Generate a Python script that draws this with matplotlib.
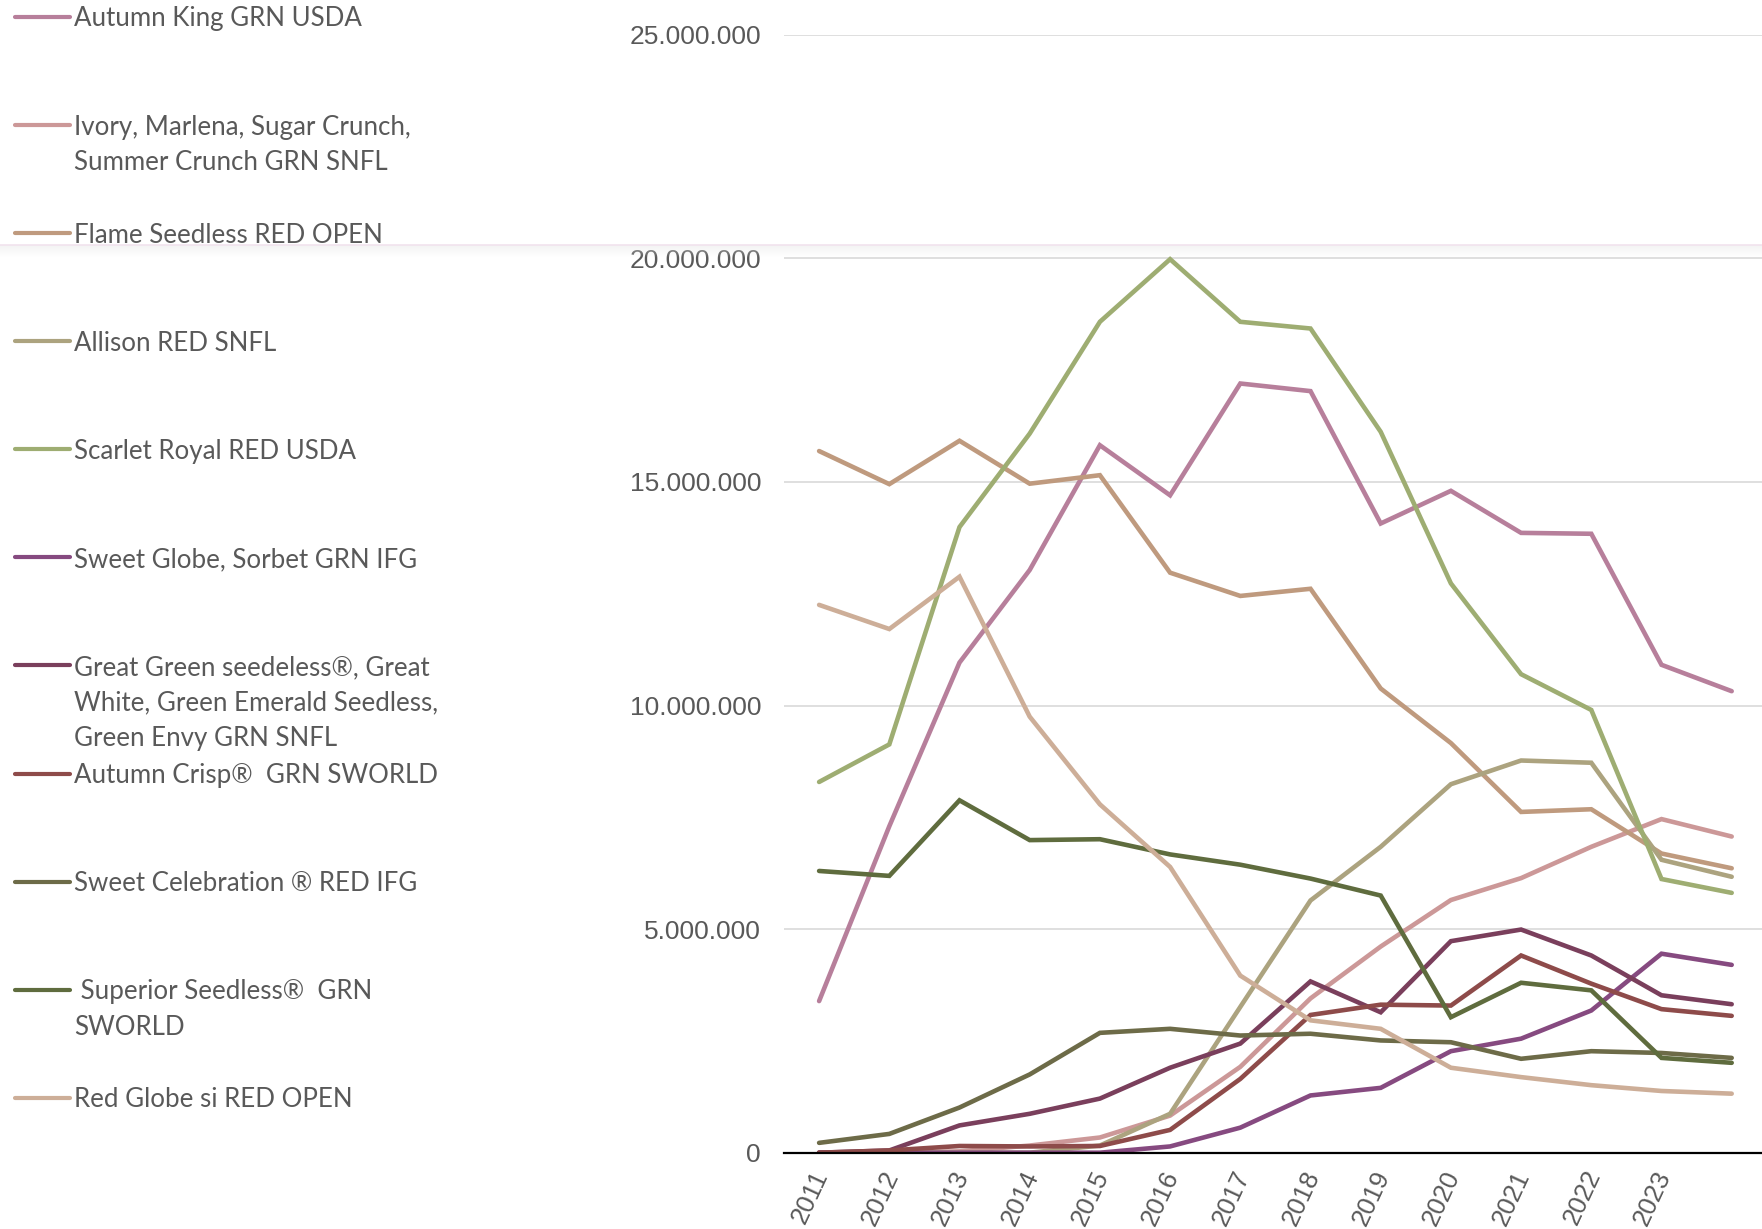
import matplotlib
matplotlib.use("Agg")
import matplotlib.pyplot as plt
import matplotlib.transforms as mtransforms
from matplotlib.lines import Line2D
from matplotlib.patches import Rectangle
from matplotlib.ticker import FuncFormatter

# x categories: 14 points, the last one has no label on the axis
years = ["2011", "2012", "2013", "2014", "2015", "2016", "2017",
         "2018", "2019", "2020", "2021", "2022", "2023", ""]

# values in millions
autumn_king = [3.39, 7.30, 10.96, 13.03, 15.82, 14.70, 17.20, 17.03, 14.07, 14.80, 13.86, 13.84, 10.91, 10.32]
ivory = [0, 0, 0.03, 0.16, 0.34, 0.83, 1.92, 3.45, 4.61, 5.65, 6.14, 6.84, 7.46, 7.07]
flame = [15.69, 14.95, 15.92, 14.96, 15.15, 12.97, 12.45, 12.61, 10.38, 9.16, 7.62, 7.68, 6.69, 6.36]
allison = [0, 0, 0, 0, 0.16, 0.87, 3.26, 5.64, 6.84, 8.24, 8.77, 8.72, 6.55, 6.17]
scarlet_royal = [8.29, 9.13, 13.99, 16.08, 18.58, 19.98, 18.58, 18.43, 16.12, 12.73, 10.70, 9.90, 6.12, 5.81]
sweet_globe = [0, 0, 0, 0, 0, 0.14, 0.56, 1.28, 1.45, 2.27, 2.55, 3.18, 4.45, 4.20]
great_green = [0, 0.05, 0.61, 0.87, 1.21, 1.90, 2.44, 3.83, 3.14, 4.73, 4.99, 4.41, 3.52, 3.32]
autumn_crisp = [0, 0.05, 0.15, 0.14, 0.15, 0.51, 1.65, 3.08, 3.31, 3.29, 4.41, 3.78, 3.21, 3.06]
sweet_celebration = [0.22, 0.42, 1.01, 1.75, 2.68, 2.77, 2.62, 2.66, 2.51, 2.47, 2.10, 2.27, 2.23, 2.12]
superior = [6.30, 6.19, 7.88, 6.99, 7.01, 6.67, 6.44, 6.13, 5.75, 3.03, 3.80, 3.63, 2.12, 2.01]
red_globe = [12.25, 11.71, 12.88, 9.75, 7.79, 6.39, 3.96, 2.96, 2.77, 1.90, 1.69, 1.51, 1.38, 1.32]

labels = [
    "Autumn King GRN USDA",
    "Ivory, Marlena, Sugar Crunch,\nSummer Crunch GRN SNFL",
    "Flame Seedless RED OPEN",
    "Allison RED SNFL",
    "Scarlet Royal RED USDA",
    "Sweet Globe, Sorbet GRN IFG",
    "Great Green seedeless\u00ae, Great\nWhite, Green Emerald Seedless,\nGreen Envy GRN SNFL",
    "Autumn Crisp\u00ae  GRN SWORLD",
    "Sweet Celebration \u00ae RED IFG",
    " Superior Seedless\u00ae  GRN\nSWORLD",
    "Red Globe si RED OPEN",
]
series = [autumn_king, ivory, flame, allison, scarlet_royal, sweet_globe,
          great_green, autumn_crisp, sweet_celebration, superior, red_globe]
colors = ["#b77f9b", "#cc9898", "#bf9a7e", "#aca37f", "#9ead72", "#864a80",
          "#7a3f5c", "#8e4b4a", "#6d6b48", "#5f6c3e", "#cdae98"]

W, H = 1762, 1229
TXT = "#595959"

fig = plt.figure(figsize=(W / 100, H / 100), dpi=100)
# axes placed in pixel terms: left edge 784, zero line at y=1152.7, top gridline at 34.7
ax = fig.add_axes([784 / W, (H - 1152.7) / H, 982.8 / W, (1152.7 - 34.7) / H])

xs = list(range(len(years)))
for vals, c in zip(series, colors):
    ax.plot(xs, [v * 1e6 for v in vals], color=c, lw=3.3, solid_capstyle="round",
            solid_joinstyle="miter", zorder=3)

ax.set_xlim(-0.5, len(years) - 0.5)
ax.set_ylim(0, 25e6)
ax.set_yticks([0, 5e6, 10e6, 15e6, 20e6, 25e6])
ax.yaxis.set_major_formatter(FuncFormatter(lambda v, p: f"{v:,.0f}".replace(",", ".")))
ax.grid(axis="y", color="#d9d9d9", lw=1.2, zorder=0)
ax.axhline(0, color="black", lw=1.6, zorder=4, clip_on=False)
for s in ax.spines.values():
    s.set_visible(False)
ax.tick_params(axis="y", length=0, pad=16.5, labelsize=19, labelcolor=TXT)
ax.tick_params(axis="x", length=0, pad=10)
for lab in ax.get_yticklabels():
    lab.set_fontfamily("Liberation Sans")
ax.set_xticks(xs)
ax.set_xticklabels(years, rotation=65, ha="right", va="top", rotation_mode="anchor",
                   fontsize=18.5, color=TXT, family="Liberation Sans")
shift = mtransforms.ScaledTranslation(-8 / 100, 0, fig.dpi_scale_trans)
for lab in ax.get_xticklabels():
    lab.set_transform(lab.get_transform() + shift)
ax.set_facecolor("none")

# legend drawn by hand on the left, entries evenly spaced
leg_y0, leg_step, line_h = 16.9, 108.1, 35.6
fs = 18.6
for i, (lab, c) in enumerate(zip(labels, colors)):
    yc = leg_y0 + i * leg_step
    fig.add_artist(Line2D([15 / W, 70 / W], [1 - yc / H, 1 - yc / H], color=c, lw=3.0,
                          solid_capstyle="round"))
    for j, part in enumerate(lab.split("\n")):
        yb = yc + j * line_h + 9.5
        fig.text(74 / W, 1 - yb / H, part, fontsize=fs, color=TXT, family="Lato",
                 ha="left", va="baseline")

# faint stitching band across the picture
fig.add_artist(Line2D([0, 1], [1 - 244.5 / H] * 2, color="#f1e3ee", lw=1.2))
for k in range(12):
    fig.add_artist(Rectangle((0, 1 - (246 + k) / H), 1, 1 / H, color="#e8e8e8",
                             alpha=0.5 * (1 - k / 12), lw=0))

fig.savefig("out.png", dpi=100)
